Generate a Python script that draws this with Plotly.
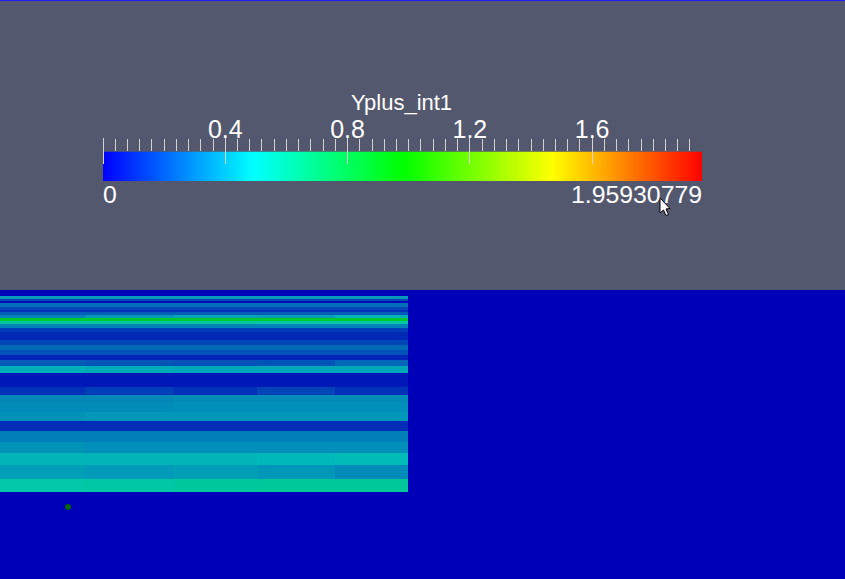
import plotly.graph_objects as go

W, H = 845, 579
ZMAX = 1.95930779

# surface mesh: column edges, row edges and scalar values (Yplus_int1)
col_edges = [0, 85, 174, 257, 335, 408]
row_edges = [296, 299, 301, 303, 307, 310, 312, 315, 318, 321, 324, 328, 332, 340, 345,
             350, 355, 360, 366, 373, 387, 395, 402, 412, 421, 431, 442, 453, 465, 479, 492]
yplus = [
    [0.37, 0.37, 0.37, 0.37, 0.37],
    [0.17, 0.17, 0.17, 0.17, 0.17],
    [0.03, 0.03, 0.03, 0.03, 0.03],
    [0.27, 0.27, 0.27, 0.27, 0.27],
    [0.17, 0.17, 0.17, 0.17, 0.17],
    [0.12, 0.12, 0.12, 0.12, 0.12],
    [0.23, 0.23, 0.23, 0.23, 0.22],
    [0.32, 0.37, 0.40, 0.39, 0.43],
    [0.85, 0.85, 0.85, 0.85, 0.85],
    [0.56, 0.55, 0.55, 0.54, 0.54],
    [0.32, 0.32, 0.32, 0.32, 0.32],
    [0.15, 0.15, 0.15, 0.15, 0.15],
    [0.10, 0.10, 0.10, 0.10, 0.10],
    [0.17, 0.17, 0.17, 0.17, 0.17],
    [0.26, 0.26, 0.26, 0.26, 0.26],
    [0.20, 0.20, 0.20, 0.20, 0.20],
    [0.09, 0.09, 0.09, 0.09, 0.09],
    [0.22, 0.21, 0.20, 0.21, 0.25],
    [0.43, 0.42, 0.41, 0.41, 0.41],
    [0.06, 0.06, 0.06, 0.06, 0.06],
    [0.12, 0.15, 0.12, 0.17, 0.12],
    [0.33, 0.33, 0.34, 0.34, 0.34],
    [0.34, 0.34, 0.35, 0.35, 0.35],
    [0.36, 0.37, 0.37, 0.37, 0.37],
    [0.11, 0.11, 0.11, 0.11, 0.11],
    [0.31, 0.31, 0.31, 0.31, 0.31],
    [0.36, 0.35, 0.35, 0.35, 0.35],
    [0.44, 0.44, 0.44, 0.45, 0.46],
    [0.39, 0.38, 0.39, 0.37, 0.34],
    [0.53, 0.54, 0.56, 0.57, 0.57],
]
probe_x = [68]
probe_y = [507]

# scalar bar
ramp_stops = [0, 0.48983, 0.97965, 1.46948, ZMAX]
ramp_rows = [0, 1]
major_vals = [0, 0.4, 0.8, 1.2, 1.6]
major_text = ["", "0.4", "0.8", "1.2", "1.6"]
bar_title = "Yplus_int1"
bar_min_label = "0"
bar_max_label = "1.95930779"

surface_scale = [[0, "#0000B8"], [0.25, "#00C8B8"], [0.5, "#00C800"], [0.75, "#C8C800"], [1, "#C80000"]]
bar_scale = [[0, "#0000FF"], [0.25, "#00FFFF"], [0.5, "#00FF00"], [0.75, "#FFFF00"], [1, "#FF0000"]]

fig = go.Figure()
fig.add_trace(go.Heatmap(x=col_edges, y=row_edges, z=yplus, zmin=0, zmax=ZMAX,
                         colorscale=surface_scale, showscale=False, hoverinfo="skip"))
fig.add_trace(go.Scatter(x=probe_x, y=probe_y, mode="markers", hoverinfo="skip",
                         marker=dict(color="#006400", size=6, line=dict(width=0))))
fig.add_trace(go.Heatmap(x=ramp_stops, y=ramp_rows, z=[ramp_stops, ramp_stops], zmin=0, zmax=ZMAX,
                         zsmooth="best", colorscale=bar_scale, showscale=False, hoverinfo="skip",
                         xaxis="x2", yaxis="y2"))
# carries the axis with the long major ticks, which only draws if a trace uses it
fig.add_trace(go.Scatter(x=major_vals, y=[0] * len(major_vals), mode="markers", hoverinfo="skip",
                         marker=dict(opacity=0, size=1), xaxis="x3", yaxis="y3"))

BAR_L, BAR_R, BAR_T, BAR_B = 103, 702, 151.5, 181
tick_col = "#D2D2D2"
LABEL = dict(family="Liberation Sans, Arial, sans-serif", color="white")

fig.update_layout(
    width=W, height=H, autosize=False, margin=dict(l=0, r=0, t=0, b=0),
    paper_bgcolor="#54586E", plot_bgcolor="rgba(0,0,0,0)", showlegend=False,
    xaxis=dict(domain=[0, 1], range=[0, W], visible=False, fixedrange=True),
    yaxis=dict(domain=[0, (H - 290) / H], range=[H, 290], visible=False, fixedrange=True),
    # colour ramp, minor ticks above it
    xaxis2=dict(domain=[BAR_L / W, BAR_R / W], range=[0, ZMAX], anchor="y2", side="top",
                showgrid=False, zeroline=False, showline=False, showticklabels=False,
                tickvals=major_vals, ticks="outside", ticklen=12, tickwidth=1, tickcolor=tick_col,
                minor=dict(dtick=0.04, tick0=0, ticks="outside", ticklen=12, tickwidth=1,
                           tickcolor=tick_col, showgrid=False)),
    yaxis2=dict(domain=[1 - BAR_B / H, 1 - BAR_T / H], range=[0, 1], visible=False, fixedrange=True),
    # long major ticks crossing into the ramp, with their labels
    xaxis3=dict(domain=[BAR_L / W, BAR_R / W], range=[0, ZMAX], anchor="y3", side="top",
                showgrid=False, zeroline=False, showline=False,
                tickmode="array", tickvals=major_vals, ticktext=major_text,
                ticks="outside", ticklen=26, tickwidth=1, tickcolor=tick_col, ticklabelstandoff=-10,
                tickfont=dict(size=25, **LABEL), tickangle=0),
    yaxis3=dict(domain=[1 - BAR_B / H, 1 - 165 / H], range=[0, 1], visible=False, fixedrange=True),
    annotations=[
        dict(xref="paper", yref="paper", x=401.5 / W, y=1 - 102.5 / H, text=bar_title, showarrow=False,
             xanchor="center", yanchor="middle", font=dict(size=22, **LABEL)),
        dict(xref="x2", yref="paper", x=0, y=1 - 195 / H, text=bar_min_label, showarrow=False,
             xanchor="left", yanchor="middle", xshift=-2, font=dict(size=24.8, **LABEL)),
        dict(xref="x2", yref="paper", x=ZMAX, y=1 - 195 / H, text=bar_max_label, showarrow=False,
             xanchor="right", yanchor="middle", xshift=2, font=dict(size=24.8, **LABEL)),
    ],
    shapes=[
        # background of the lower viewport, under the surface
        dict(type="rect", xref="paper", yref="paper", x0=0, x1=1, y0=0, y1=(H - 290) / H,
             fillcolor="#0000B8", line=dict(width=0), layer="below"),
        dict(type="line", xref="paper", yref="paper", x0=0, x1=1, y0=1 - 0.5 / H, y1=1 - 0.5 / H,
             line=dict(color="#2020F0", width=1), layer="above"),
        # mouse pointer
        dict(type="path", xref="paper", yref="paper", layer="above",
             path="M {} {} L {} {} L {} {} L {} {} L {} {} L {} {} L {} {} Z".format(
                 *[c for px, py in [(660, 198), (660, 213), (663.5, 210), (666, 215.5), (668.5, 214.5),
                                    (666, 209), (670, 208.5)]
                   for c in (px / W, 1 - py / H)]),
             fillcolor="white", line=dict(color="black", width=1)),
    ],
)
fig.write_html("out.html", config=dict(displayModeBar=False),
               post_script="document.body.style.margin='0';document.documentElement.style.overflow='hidden';")
